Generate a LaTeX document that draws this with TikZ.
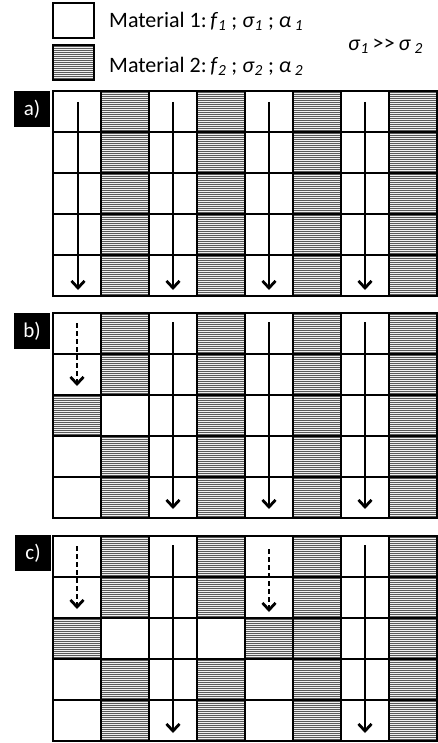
\documentclass[tikz,border=0pt]{standalone}
\usepackage{fontspec}
\setmainfont{Carlito}
\usetikzlibrary{arrows.meta}
\tikzset{
  cellline/.style={line width=1.5pt, draw=black},
  hatchbg/.style={fill=gray!12},
  hatchln/.style={line width=0.85pt, draw=black!65},
  flow/.style={line width=2.4pt, -{Straight Barb[length=7pt,width=13pt,line width=2.8pt]}},
  dflow/.style={flow, dash pattern=on 5pt off 3pt},
  tag/.style={fill=black, text=white, minimum width=36pt, minimum height=36pt, inner sep=0pt, font=\fontsize{21}{23}\selectfont},
  legbox/.style={line width=2pt, draw=black},
  legtext/.style={anchor=west, font=\fontsize{22}{24}\selectfont, inner sep=0pt},
}
\newcommand\hatchbox[4]{%
  \begin{scope}
    \clip (#1,#2) rectangle (#3,#4);
    \fill[hatchbg] (#1,#2) rectangle (#3,#4);
    \pgfmathsetmacro\hya{#2+1}%
    \pgfmathsetmacro\hyb{#2+3}%
    \foreach \yy in {\hya,\hyb,...,#4} \draw[hatchln] (#1,\yy) -- (#3,\yy);
  \end{scope}}
\newcommand\panel[2]{%
  \foreach \rowlist [count=\r from 0] in {#2} {
    \foreach \v [count=\c from 0] in \rowlist {
      \pgfmathsetmacro\cx{53+48*\c}%
      \pgfmathsetmacro\cy{#1+41*\r}%
      \pgfmathsetmacro\cxx{\cx+48}%
      \pgfmathsetmacro\cyy{\cy+41}%
      \ifnum\v=1 \hatchbox{\cx}{\cy}{\cxx}{\cyy}\fi
      \draw[cellline] (\cx,\cy) rectangle (\cxx,\cyy);
    }}}
\begin{document}
\begin{tikzpicture}[x=1pt,y=-1pt]
\useasboundingbox (0,0) rectangle (438,743);
% legend
\draw[legbox, fill=white] (53,3) rectangle (94,38);
\hatchbox{53}{45}{94}{80}
\draw[legbox] (53,45) rectangle (94,80);
\node[legtext] (m1) at (109,21) {Material 1:\,\textit{f}\textsubscript{\textit{1}} ; \textit{σ}\textsubscript{\textit{1}} ; \textit{α}\,\textsubscript{\textit{1}}};
\node[legtext] (m2) at (109,66) {Material 2:\,\textit{f}\textsubscript{\textit{2}} ; \textit{σ}\textsubscript{\textit{2}} ; \textit{α}\,\textsubscript{\textit{2}}};
\node[legtext] (rel) at (348,46) {\textit{σ}\textsubscript{\textit{1}}\,>\kern0.5pt>\,\textit{σ}\,\textsubscript{\textit{2}}};
% panels
\panel{91}{{0,1,0,1,0,1,0,1},{0,1,0,1,0,1,0,1},{0,1,0,1,0,1,0,1},{0,1,0,1,0,1,0,1},{0,1,0,1,0,1,0,1}}
\panel{313}{{0,1,0,1,0,1,0,1},{0,1,0,1,0,1,0,1},{1,0,0,1,0,1,0,1},{0,1,0,1,0,1,0,1},{0,1,0,1,0,1,0,1}}
\panel{536}{{0,1,0,1,0,1,0,1},{0,1,0,1,0,1,0,1},{1,0,0,0,1,1,0,1},{0,1,0,1,0,1,0,1},{0,1,0,1,0,1,0,1}}
% tags
\node[tag] (ta) at (32,109) {a)};
\node[tag] (tb) at (32,331) {b)};
\node[tag] (tc) at (33,553) {c)};
% arrows panel a
\foreach \k/\x in {0/78,2/173,4/269,6/365} {
  \coordinate (a\k s) at (\x,102);
  \coordinate (a\k e) at (\x,290);
  \draw[flow] (a\k s) -- (a\k e);
}
% panel b
\coordinate (b0s) at (77,323);
\coordinate (b0e) at (77,386);
\draw[dflow] (b0s) -- (b0e);
\foreach \k/\x in {2/173,4/269,6/365} {
  \coordinate (b\k s) at (\x,322);
  \coordinate (b\k e) at (\x,509);
  \draw[flow] (b\k s) -- (b\k e);
}
% panel c
\coordinate (c0s) at (77,546);
\coordinate (c0e) at (77,609);
\draw[dflow] (c0s) -- (c0e);
\coordinate (c4s) at (269,549);
\coordinate (c4e) at (269,612);
\draw[dflow] (c4s) -- (c4e);
\foreach \k/\x in {2/173,6/365} {
  \coordinate (c\k s) at (\x,545);
  \coordinate (c\k e) at (\x,733);
  \draw[flow] (c\k s) -- (c\k e);
}
\end{tikzpicture}
\end{document}
